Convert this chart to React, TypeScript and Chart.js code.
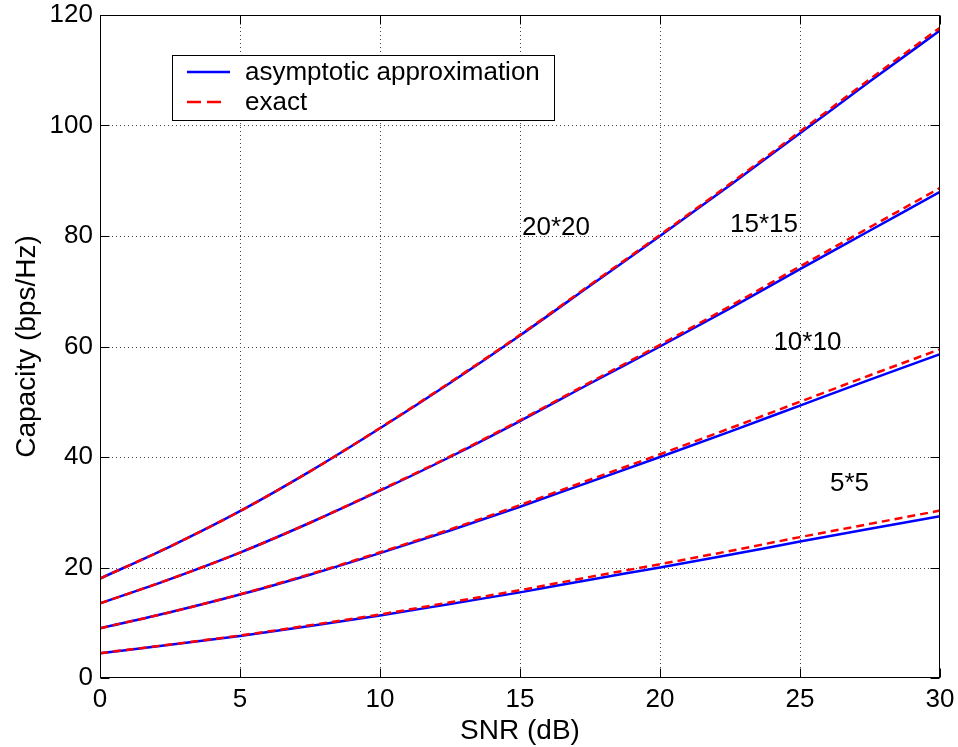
import React, { useEffect, useRef } from "react";
import { Chart, registerables } from "chart.js";

Chart.register(...registerables);

// ---- data ----
const snrDb = [0, 2.5, 5, 7.5, 10, 12.5, 15, 17.5, 20, 22.5, 25, 27.5, 30];

const approx20 = [18.0, 23.8, 30.2, 37.4, 45.2, 53.4, 62.0, 71.0, 80.0, 89.2, 98.6, 108.0, 117.2];
const approx15 = [13.5, 17.9, 22.7, 28.1, 33.9, 40.0, 46.5, 53.3, 60.0, 66.9, 74.0, 81.0, 88.0];
const approx10 = [9.0, 11.9, 15.1, 18.7, 22.6, 26.7, 31.0, 35.5, 40.0, 44.6, 49.3, 54.0, 58.6];
const approx5 = [4.5, 6.0, 7.6, 9.4, 11.3, 13.4, 15.5, 17.8, 20.0, 22.3, 24.7, 27.0, 29.3];

const exact20 = [18.0, 23.8, 30.2, 37.4, 45.25, 53.5, 62.1, 71.15, 80.2, 89.45, 98.9, 108.4, 117.7];
const exact15 = [13.5, 17.9, 22.7, 28.1, 34.0, 40.1, 46.65, 53.5, 60.3, 67.3, 74.5, 81.6, 88.7];
const exact10 = [9.0, 11.9, 15.15, 18.8, 22.75, 26.9, 31.3, 35.9, 40.5, 45.2, 50.0, 54.8, 59.5];
const exact5 = [4.5, 6.05, 7.7, 9.55, 11.5, 13.7, 15.9, 18.3, 20.6, 23.0, 25.5, 27.9, 30.3];

const xTicks = [0, 5, 10, 15, 20, 25, 30];
const yTicks = [0, 20, 40, 60, 80, 100, 120];

const curveLabels = ["20*20", "15*15", "10*10", "5*5"];
const curveLabelX = [15.07, 22.5, 24.05, 26.07];
const curveLabelY = [81.4, 82.0, 60.6, 35.2];

const legendLabels = ["asymptotic approximation", "exact"];
const xTitle = "SNR (dB)";
const yTitle = "Capacity (bps/Hz)";

const BLUE = "#0000ff";
const RED = "#ff0000";
const FONT = "'Liberation Sans', Arial, Helvetica, sans-serif";

function pts(ys: number[]) {
  return snrDb.map((x, i) => ({ x, y: ys[i] }));
}

const decorPlugin = {
  id: "matlabDecor",
  beforeDatasetsDraw(chart: any) {
    const { ctx, chartArea: a, scales } = chart;
    const xs = scales.x;
    const ys = scales.y;
    ctx.save();
    ctx.strokeStyle = "#444";
    ctx.lineWidth = 1;
    ctx.setLineDash([1, 3]);
    for (const v of xTicks) {
      const px = Math.round(xs.getPixelForValue(v)) + 0.5;
      if (v === xTicks[0] || v === xTicks[xTicks.length - 1]) continue;
      ctx.beginPath();
      ctx.moveTo(px, a.top);
      ctx.lineTo(px, a.bottom);
      ctx.stroke();
    }
    for (const v of yTicks) {
      const py = Math.round(ys.getPixelForValue(v)) + 0.5;
      if (v === yTicks[0] || v === yTicks[yTicks.length - 1]) continue;
      ctx.beginPath();
      ctx.moveTo(a.left, py);
      ctx.lineTo(a.right, py);
      ctx.stroke();
    }
    ctx.restore();
  },
  afterDatasetsDraw(chart: any) {
    const { ctx, chartArea: a, scales } = chart;
    const xs = scales.x;
    const ys = scales.y;
    ctx.save();
    // box
    ctx.setLineDash([]);
    ctx.strokeStyle = "#000";
    ctx.lineWidth = 1;
    const L = Math.round(a.left) + 0.5;
    const R = Math.round(a.right) - 0.5;
    const T = Math.round(a.top) + 0.5;
    const B = Math.round(a.bottom) - 0.5;
    ctx.strokeRect(L, T, R - L, B - T);
    // inward ticks
    const tl = 9;
    ctx.beginPath();
    for (const v of xTicks) {
      const px = Math.round(xs.getPixelForValue(v)) + 0.5;
      ctx.moveTo(px, B);
      ctx.lineTo(px, B - tl);
      ctx.moveTo(px, T);
      ctx.lineTo(px, T + tl);
    }
    for (const v of yTicks) {
      const py = Math.round(ys.getPixelForValue(v)) + 0.5;
      ctx.moveTo(L, py);
      ctx.lineTo(L + tl, py);
      ctx.moveTo(R, py);
      ctx.lineTo(R - tl, py);
    }
    ctx.stroke();

    // curve labels
    ctx.fillStyle = "#000";
    ctx.font = `26px ${FONT}`;
    ctx.textAlign = "left";
    ctx.textBaseline = "middle";
    curveLabels.forEach((t, i) => {
      ctx.fillText(t, xs.getPixelForValue(curveLabelX[i]), ys.getPixelForValue(curveLabelY[i]));
    });

    // legend
    const lx = 172.5, ly = 55.5, lw = 382, lh = 65;
    ctx.fillStyle = "#fff";
    ctx.fillRect(lx, ly, lw, lh);
    ctx.strokeStyle = "#000";
    ctx.lineWidth = 1;
    ctx.strokeRect(lx, ly, lw, lh);
    const rows = [
      { y: 72, color: BLUE, dash: [] as number[], end: 230 },
      { y: 102, color: RED, dash: [14, 6], end: 221 },
    ];
    rows.forEach((r, i) => {
      ctx.strokeStyle = r.color;
      ctx.lineWidth = 2.5;
      ctx.setLineDash(r.dash);
      ctx.beginPath();
      ctx.moveTo(187, r.y);
      ctx.lineTo(r.end, r.y);
      ctx.stroke();
      ctx.setLineDash([]);
      ctx.fillStyle = "#000";
      ctx.font = `26px ${FONT}`;
      ctx.textBaseline = "middle";
      ctx.fillText(legendLabels[i], 245, r.y + 1);
    });
    ctx.restore();
  },
};

export default function App() {
  const ref = useRef<HTMLCanvasElement | null>(null);
  useEffect(() => {
    if (!ref.current) return;
    const mk = (label: string, ys: number[], color: string, dashed: boolean, order: number) => ({
      label,
      data: pts(ys),
      borderColor: color,
      backgroundColor: color,
      borderWidth: 2.5,
      borderDash: dashed ? [8, 5] : [],
      pointRadius: 0,
      fill: false,
      cubicInterpolationMode: "monotone" as const,
      order,
    });
    const chart = new Chart(ref.current, {
      type: "line",
      data: {
        datasets: [
          mk("exact 20*20", exact20, RED, true, 0),
          mk("exact 15*15", exact15, RED, true, 0),
          mk("exact 10*10", exact10, RED, true, 0),
          mk("exact 5*5", exact5, RED, true, 0),
          mk("asymptotic approximation 20*20", approx20, BLUE, false, 1),
          mk("asymptotic approximation 15*15", approx15, BLUE, false, 1),
          mk("asymptotic approximation 10*10", approx10, BLUE, false, 1),
          mk("asymptotic approximation 5*5", approx5, BLUE, false, 1),
        ],
      },
      options: {
        animation: false,
        responsive: false,
        devicePixelRatio: 1,
        layout: { padding: { top: 15, right: 18, left: 0, bottom: 0 } },
        plugins: { legend: { display: false }, tooltip: { enabled: false } },
        scales: {
          x: {
            type: "linear",
            min: 0,
            max: 30,
            afterBuildTicks: (s: any) => {
              s.ticks = xTicks.map((v) => ({ value: v }));
            },
            afterFit: (s: any) => {
              s.height = 69;
              s.paddingLeft = 0;
              s.paddingRight = 0;
              s.paddingTop = 0;
              s.paddingBottom = 0;
            },
            grid: { display: false, drawTicks: false },
            border: { display: false },
            ticks: {
              color: "#000",
              font: { family: FONT, size: 26 },
              padding: 6,
              maxRotation: 0,
              autoSkip: false,
            },
            title: {
              display: true,
              text: xTitle,
              color: "#000",
              font: { family: FONT, size: 28, lineHeight: 1 },
              padding: { top: 0, bottom: 2 },
            },
          },
          y: {
            type: "linear",
            min: 0,
            max: 120,
            afterBuildTicks: (s: any) => {
              s.ticks = yTicks.map((v) => ({ value: v }));
            },
            afterFit: (s: any) => {
              s.width = 100;
              s.paddingLeft = 0;
              s.paddingRight = 0;
              s.paddingTop = 0;
              s.paddingBottom = 0;
            },
            grid: { display: false, drawTicks: false },
            border: { display: false },
            ticks: {
              color: "#000",
              font: { family: FONT, size: 26 },
              padding: 7,
              autoSkip: false,
            },
            title: {
              display: true,
              text: yTitle,
              color: "#000",
              font: { family: FONT, size: 28, lineHeight: 1 },
              padding: { top: 13, bottom: 0 },
            },
          },
        },
      },
      plugins: [decorPlugin],
    });
    return () => chart.destroy();
  }, []);
  return (
    <div style={{ position: "absolute", left: 0, top: 0, width: 958, height: 747, background: "#fff" }}>
      <canvas ref={ref} width={958} height={747} style={{ display: "block" }} />
    </div>
  );
}
